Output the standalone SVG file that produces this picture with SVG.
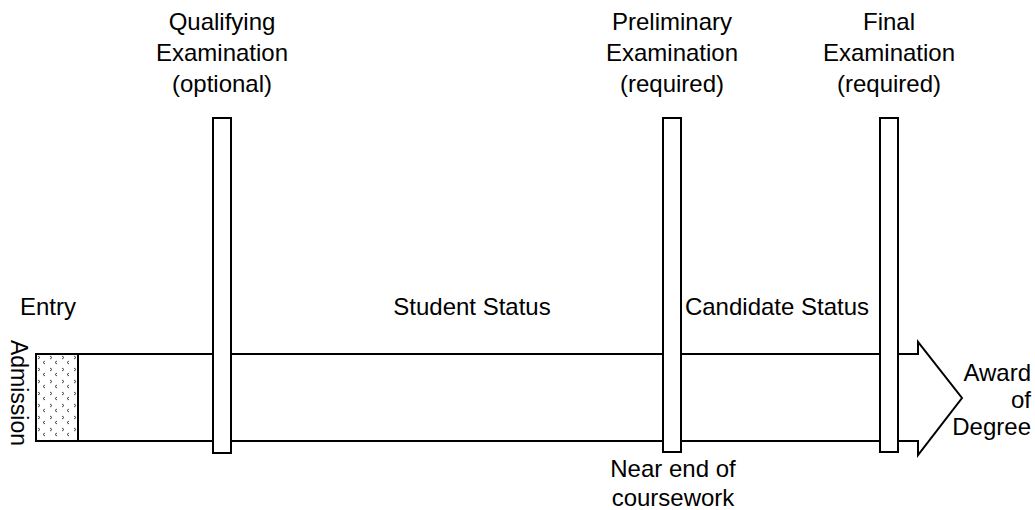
<svg xmlns="http://www.w3.org/2000/svg" width="1035" height="510" viewBox="0 0 1035 510">
  <style>
    .t { font-family: "Liberation Sans", Arial, sans-serif; font-size: 24px; fill: #000; }
    .m { text-anchor: middle; }
    .e { text-anchor: end; }
    .bar { fill: #fff; stroke: #000; stroke-width: 2; }
    .ln { fill: none; stroke: #000; stroke-width: 2; }
  </style>
  <defs>
    <pattern id="dots" x="36" y="354" width="12" height="12" patternUnits="userSpaceOnUse">
      <rect width="12" height="12" fill="#fff"/>
      <path d="M2,2 L4,3.5 L2,5 M9,7 L7,8.5 L9,10" fill="none" stroke="#444" stroke-width="1"/>
    </pattern>
  </defs>
  <rect width="1035" height="510" fill="#fff"/>

  <g id="connectors">
    <path class="ln" d="M78,354 H918 V342 L962,398 L918,455 V441 H43"/>
  </g>

  <g id="admission">
    <rect x="36" y="354" width="42" height="87" fill="url(#dots)" stroke="#000" stroke-width="2"/>
    <text class="t m" style="font-size:23px" transform="translate(11,393) rotate(90)">Admission</text>
  </g>

  <g id="entry">
    <text class="t m" x="48" y="315">Entry</text>
  </g>

  <g id="qualifying">
    <rect class="bar" x="213" y="118" width="18" height="335"/>
    <text class="t m" x="222" y="30">Qualifying</text>
    <text class="t m" x="222" y="61">Examination</text>
    <text class="t m" x="222" y="92">(optional)</text>
  </g>

  <g id="preliminary">
    <rect class="bar" x="663" y="118" width="18" height="334"/>
    <text class="t m" x="672" y="30">Preliminary</text>
    <text class="t m" x="672" y="61">Examination</text>
    <text class="t m" x="672" y="92">(required)</text>
    <text class="t m" x="673" y="477">Near end of</text>
    <text class="t m" x="673" y="506">coursework</text>
  </g>

  <g id="final">
    <rect class="bar" x="880" y="118" width="18" height="334"/>
    <text class="t m" x="889" y="30">Final</text>
    <text class="t m" x="889" y="61">Examination</text>
    <text class="t m" x="889" y="92">(required)</text>
  </g>

  <g id="student-status">
    <text class="t m" x="472" y="315">Student Status</text>
  </g>

  <g id="candidate-status">
    <text class="t m" x="777" y="315">Candidate Status</text>
  </g>

  <g id="award">
    <text class="t e" x="1031" y="381">Award</text>
    <text class="t e" x="1031" y="408">of</text>
    <text class="t e" x="1031" y="435">Degree</text>
  </g>
</svg>
